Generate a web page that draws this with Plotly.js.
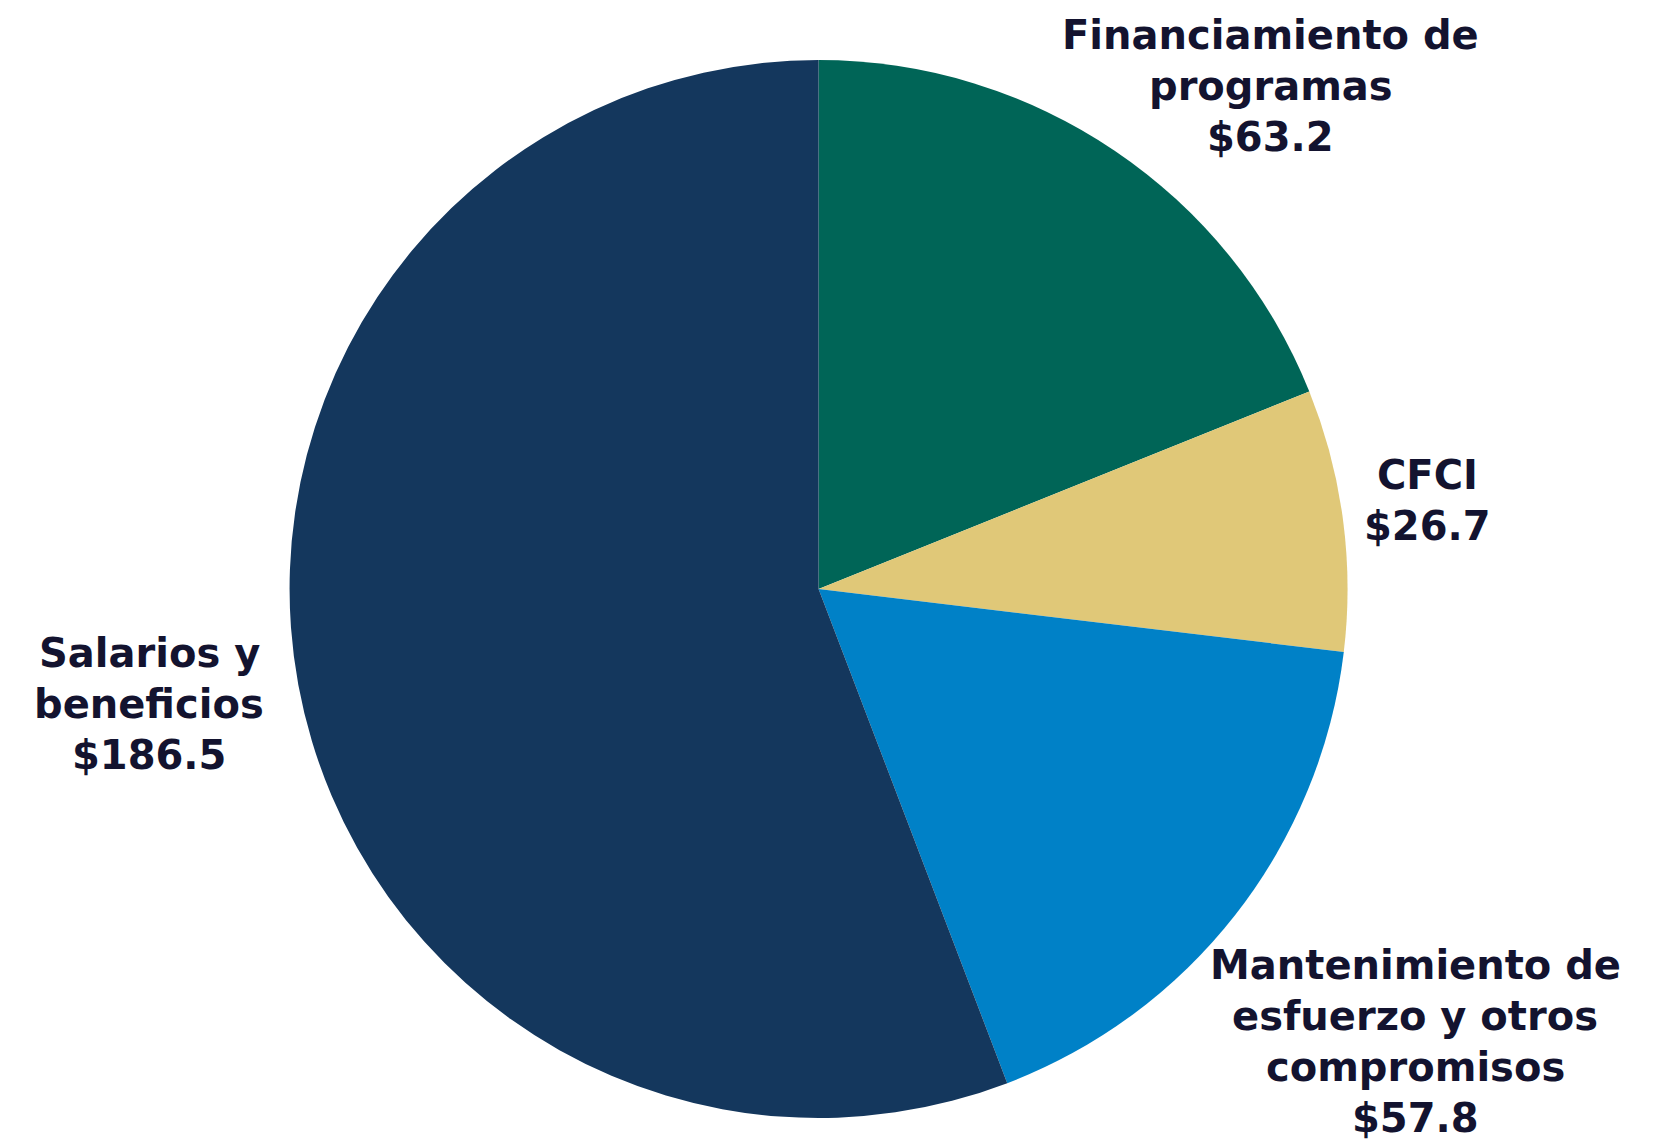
<!DOCTYPE html>
<html>
<head>
<meta charset="utf-8">
<script src="https://cdn.plot.ly/plotly-3.0.1.min.js"></script>
<style>html,body{margin:0;padding:0;background:#fff;}#chart{width:1669px;height:1140px;}</style>
</head>
<body>
<div id="chart"></div>
<script>
const categories = ["Financiamiento de programas", "CFCI", "Mantenimiento de esfuerzo y otros compromisos", "Salarios y beneficios"];
const labelLines = [["Financiamiento de", "programas"], ["CFCI"], ["Mantenimiento de", "esfuerzo y otros", "compromisos"], ["Salarios y", "beneficios"]];
const values = [63.2, 26.7, 57.8, 186.5];
const colors = ["#006557", "#E0C878", "#0081C7", "#14375D"];

const labelPos = [[0.7615, 0.9244], [0.8555, 0.5611], [0.848, 0.086], [0.0895, 0.3828]];
const H = 1140, lineGap = 51;

const annotations = [];
categories.forEach((c, i) => {
  const lines = labelLines[i].concat(["$" + values[i].toFixed(1)]);
  const n = lines.length;
  lines.forEach((t, j) => {
    annotations.push({
      text: t,
      x: labelPos[i][0], y: labelPos[i][1] - (j - (n - 1) / 2) * lineGap / H,
      xref: "paper", yref: "paper",
      xanchor: "center", yanchor: "middle", align: "center", showarrow: false,
      font: {family: "DejaVu Sans", size: 40, color: "#13132F", weight: 700}
    });
  });
});

Plotly.newPlot("chart", [{
  type: "pie",
  labels: categories,
  values: values,
  sort: false,
  direction: "clockwise",
  rotation: 0,
  textinfo: "none",
  hoverinfo: "label+value",
  marker: {colors: colors, line: {width: 0}},
  domain: {x: [0.1735, 0.8074], y: [0.0193, 0.9474]}
}], {
  width: 1669, height: 1140,
  margin: {l: 0, r: 0, t: 0, b: 0},
  showlegend: false,
  paper_bgcolor: "#ffffff",
  annotations: annotations
}, {displayModeBar: false});
</script>
</body>
</html>
